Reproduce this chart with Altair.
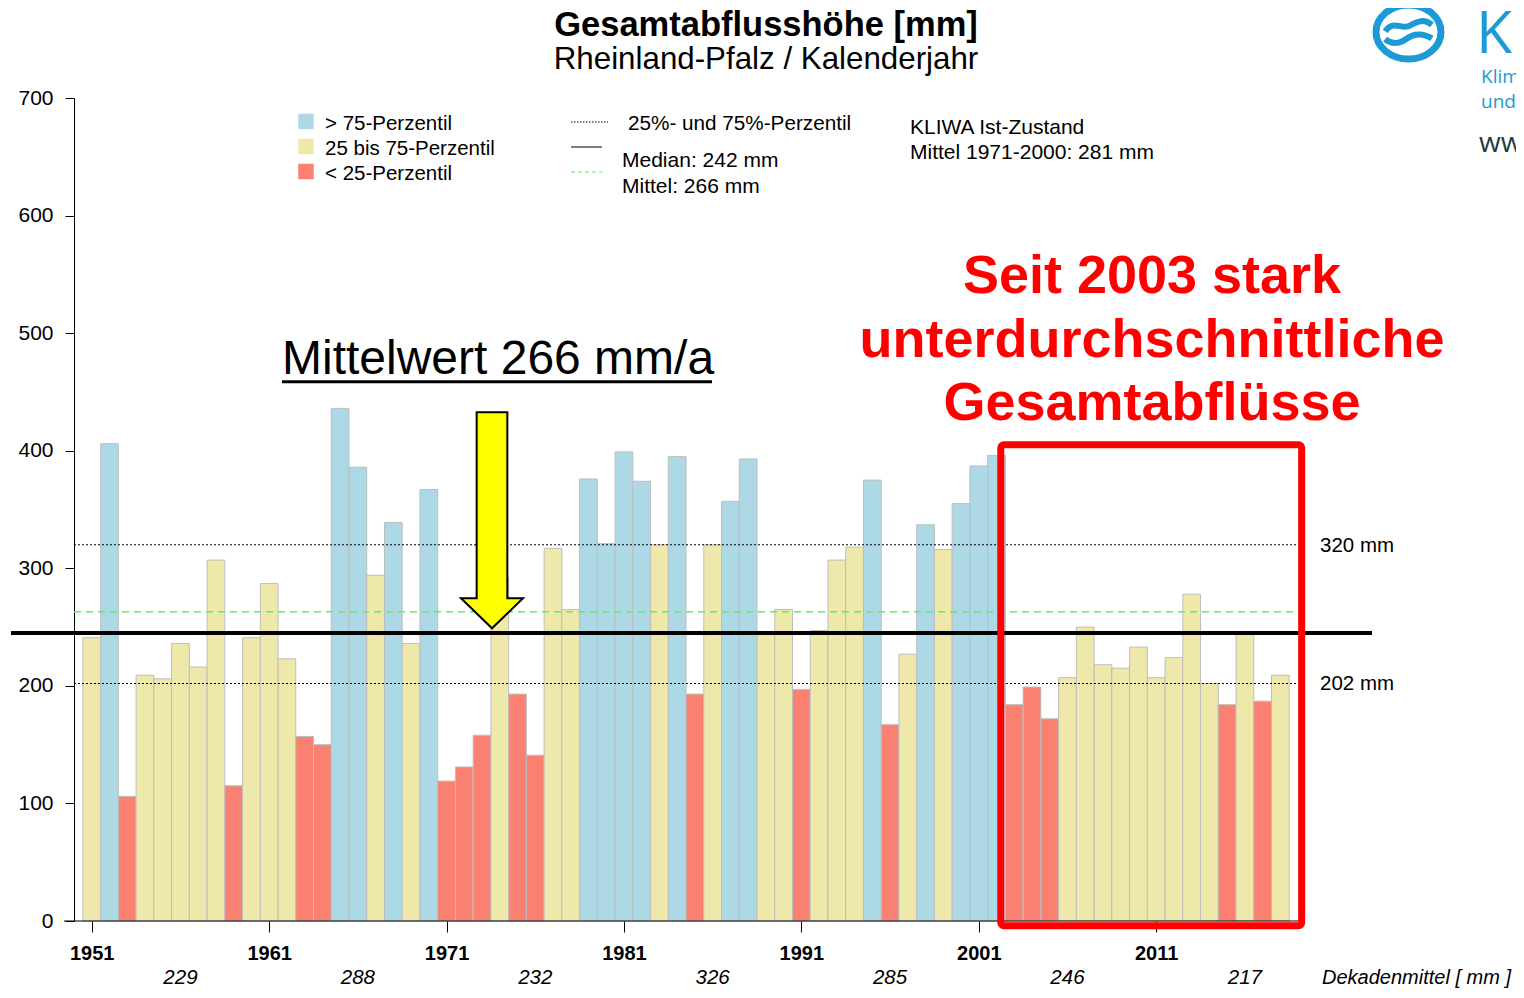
import altair as alt
import pandas as pd

# ---------------- data ----------------
years = list(range(1951, 2019))
runoff_mm = [241, 406, 106, 209, 206, 236, 216, 307, 115, 241,
             287, 223, 157, 150, 436, 386, 294, 339, 236, 367,
             119, 131, 158, 292, 193, 141, 317, 265, 376, 321,
             399, 374, 320, 395, 193, 320, 357, 393, 244, 265,
             197, 247, 307, 318, 375, 167, 227, 337, 316, 355,
             387, 396, 184, 199, 172, 207, 250, 218, 215, 233,
             207, 224, 278, 202, 184, 244, 187, 209]
# class: h = > 75-Perzentil, m = 25 bis 75-Perzentil, l = < 25-Perzentil
classes = list("mhlmmmmmlm" "mmllhhmhmh" "lllmllmmhh" "hhmhlmhhmm"
               "lmmmhlmhmh" "hhlllmmmmm" "mmmmlmlm")
class_order = ["h", "m", "l"]
class_colors = ["#ADD8E6", "#EEE8AA", "#FA8072"]

x_tick_years = [1951, 1961, 1971, 1981, 1991, 2001, 2011]
decade_label_years = [1956, 1966, 1976, 1986, 1996, 2006, 2016]
decade_means = [229, 288, 232, 326, 285, 246, 217]

p25, p75 = 202, 320
median_line = 245
mean_line = 263

FONT = "Liberation Sans"
W, H = 1225, 823
PAD_L, PAD_T = 66, 90
TOTAL_W, TOTAL_H = 1508, 982

df = pd.DataFrame({"year": years, "value": runoff_mm, "cls": classes})

xs = alt.Scale(domain=[1950, 2019.05], nice=False, zero=False)
ys = alt.Scale(domain=[0, 700], nice=False)

bars = alt.Chart(df).transform_calculate(
    x0="datum.year - 0.5", x1="datum.year + 0.5"
).mark_rect(stroke="#BEBEBE", strokeWidth=1).encode(
    x=alt.X("x0:Q", scale=xs, axis=alt.Axis(
        values=x_tick_years, format="d", title=None, grid=False, domain=False,
        tickSize=11, tickColor="black", tickWidth=1,
        labelFont=FONT, labelFontSize=20, labelFontWeight="bold",
        labelColor="black", labelPadding=11, labelFlush=False, labelOverlap=False)),
    x2="x1:Q",
    y=alt.Y("value:Q", scale=ys, axis=alt.Axis(
        values=list(range(0, 701, 100)), title=None, grid=False,
        domainColor="black", domainWidth=1, tickSize=9, tickColor="black",
        labelFont=FONT, labelFontSize=21, labelColor="black", labelPadding=12)),
    y2=alt.datum(0),
    color=alt.Color("cls:N", scale=alt.Scale(domain=class_order, range=class_colors), legend=None),
)

pct_df = pd.DataFrame({"y": [p25, p75]})
pct_lines = alt.Chart(pct_df).mark_rule(color="black", strokeWidth=1, strokeDash=[2, 2]).encode(
    y=alt.Y("y:Q", scale=ys), x=alt.value(0), x2=alt.value(1222))

mean_rule = alt.Chart(pd.DataFrame({"y": [mean_line]})).mark_rule(
    color="#5CF05C", strokeWidth=1.5, strokeDash=[7, 5]).encode(
    y=alt.Y("y:Q", scale=ys), x=alt.value(0), x2=alt.value(1222))

median_rule = alt.Chart(pd.DataFrame({"y": [median_line]})).mark_rule(
    color="black", strokeWidth=4).encode(
    y=alt.Y("y:Q", scale=ys), x=alt.value(-63), x2=alt.value(1298))

ONE = alt.Data(values=[{}])

x_axis_line = alt.Chart(ONE).mark_rule(color="black", strokeWidth=1).encode(
    x=alt.value(-10), x2=alt.value(W), y=alt.value(H))

box = alt.Chart(pd.DataFrame({"a": [2002.24], "b": [2019.2], "c": [-4], "d": [405]})).mark_rect(
    fillOpacity=0, stroke="#FF0000", strokeWidth=7, cornerRadius=3).encode(
    x=alt.X("a:Q", scale=xs), x2="b:Q", y=alt.Y("c:Q", scale=ys), y2="d:Q")

ARROW = "M -0.142 -1 L 0.142 -1 L 0.142 0.722 L 0.287 0.722 L 0 1 L -0.287 0.722 L -0.142 0.722 Z"
arrow = alt.Chart(ONE).mark_point(
    shape=ARROW, size=216 * 216, filled=True, fill="#FFFF00", fillOpacity=1,
    stroke="black", strokeWidth=2, strokeOpacity=1, opacity=1).encode(
    x=alt.value(418), y=alt.value(422.3))


def label(text, x, y, size=20, weight="normal", align="left", color="black",
          style="normal", font=FONT):
    return alt.Chart(ONE).mark_text(
        text=text, align=align, baseline="alphabetic", fontSize=size,
        fontWeight=weight, fontStyle=style, color=color, font=font).encode(
        x=alt.value(x), y=alt.value(y))


texts = [
    label("Gesamtabflusshöhe [mm]", 692, -62, size=34.5, weight="bold", align="center"),
    label("Rheinland-Pfalz / Kalenderjahr", 692, -29, size=31.3, align="center"),
    # legend (colour classes)
    label("> 75-Perzentil", 251, 32, size=20.5),
    label("25 bis 75-Perzentil", 251, 57, size=20.5),
    label("< 25-Perzentil", 251, 82, size=20.5),
    # legend (lines)
    label("25%- und 75%-Perzentil", 554, 32, size=20.7),
    label("Median: 242 mm", 548, 69, size=21),
    label("Mittel: 266 mm", 548, 95, size=21),
    label("KLIWA Ist-Zustand", 836, 36, size=21),
    label("Mittel 1971-2000: 281 mm", 836, 61, size=21),
    # right side labels
    label("320 mm", 1246, 454, size=20.5),
    label("202 mm", 1246, 592, size=20.5),
    # annotations
    label("Mittelwert 266 mm/a", 208, 276, size=48),
    label("Seit 2003 stark", 1078, 195, size=54, weight="bold", align="center", color="#FF0000"),
    label("unterdurchschnittliche", 1078, 259, size=54, weight="bold", align="center", color="#FF0000"),
    label("Gesamtabflüsse", 1078, 322, size=54, weight="bold", align="center", color="#FF0000"),
    label("Dekadenmittel [ mm ]", 1248, 886, size=20, style="italic"),
    # logo texts (cropped at the right edge as in the reference)
    label("K", 1402, -45, size=59, color="#1C9AD6", font="Open Sans"),
    label("Klimaveränderung", 1407, -15, size=19, color="#1C9AD6", font="Open Sans"),
    label("und Wasserwirtschaft", 1407, 10, size=19, color="#1C9AD6", font="Open Sans"),
    label("www.kliwa.de", 1405, 54, size=28, color="#1E3C44", font="Open Sans"),
]

underline = alt.Chart(ONE).mark_rule(color="black", strokeWidth=3).encode(
    x=alt.value(208), x2=alt.value(638), y=alt.value(283.7))

legend_sq = alt.Chart(pd.DataFrame({"cls": class_order, "py": [23.5, 48.5, 73.5]})).mark_square(
    size=240, opacity=1).encode(
    x=alt.value(232), y=alt.Y("py:Q", scale=None),
    color=alt.Color("cls:N", scale=alt.Scale(domain=class_order, range=class_colors), legend=None))

leg_dot = alt.Chart(ONE).mark_rule(color="black", strokeWidth=1, strokeDash=[1.5, 1.5]).encode(
    x=alt.value(497), x2=alt.value(534), y=alt.value(24))
leg_solid = alt.Chart(ONE).mark_rule(color="black", strokeWidth=1).encode(
    x=alt.value(497), x2=alt.value(528), y=alt.value(49))
leg_green = alt.Chart(ONE).mark_rule(color="#5CF05C", strokeWidth=1, strokeDash=[4, 3]).encode(
    x=alt.value(497), x2=alt.value(528), y=alt.value(74))

decade_df = pd.DataFrame({"year": decade_label_years, "mean": decade_means})
decades = alt.Chart(decade_df).mark_text(
    font=FONT, fontSize=20.5, fontStyle="italic", baseline="alphabetic", color="black").encode(
    x=alt.X("year:Q", scale=xs), y=alt.value(886), text="mean:Q")

RING = ("M 1 0 C 1 0.458 0.552 0.83 0 0.83 C -0.552 0.83 -1 0.458 -1 0 "
        "C -1 -0.458 -0.552 -0.83 0 -0.83 C 0.552 -0.83 1 -0.458 1 0 Z")
WAVES = ("M -0.72 -0.02 C -0.45 -0.4 -0.2 -0.05 0.05 -0.2 C 0.3 -0.35 0.5 -0.4 0.72 -0.22 "
         "M -0.72 0.22 C -0.5 0.4 -0.25 0.35 -0.05 0.2 C 0.15 0.05 0.45 0.02 0.72 0.2")
logo_ring = alt.Chart(ONE).mark_point(
    shape=RING, size=65 * 65, filled=False, stroke="#1C9AD6", strokeWidth=7, opacity=1).encode(
    x=alt.value(1334.5), y=alt.value(-66))
logo_waves = alt.Chart(ONE).mark_point(
    shape=WAVES, size=65 * 65, filled=False, stroke="#1C9AD6", strokeWidth=6, opacity=1).encode(
    x=alt.value(1334.5), y=alt.value(-66))

chart = alt.layer(
    bars, pct_lines, mean_rule, median_rule, x_axis_line, box, arrow, underline,
    legend_sq, leg_dot, leg_solid, leg_green, decades, logo_ring, logo_waves, *texts
).properties(
    width=W, height=H,
    autosize=alt.AutoSizeParams(type="none"),
    padding={"left": PAD_L, "top": PAD_T, "right": TOTAL_W - PAD_L - W,
             "bottom": TOTAL_H - PAD_T - H},
    background="white",
).configure_view(stroke=None)

chart.save("out.html", embed_options={"renderer": "svg", "actions": False})
